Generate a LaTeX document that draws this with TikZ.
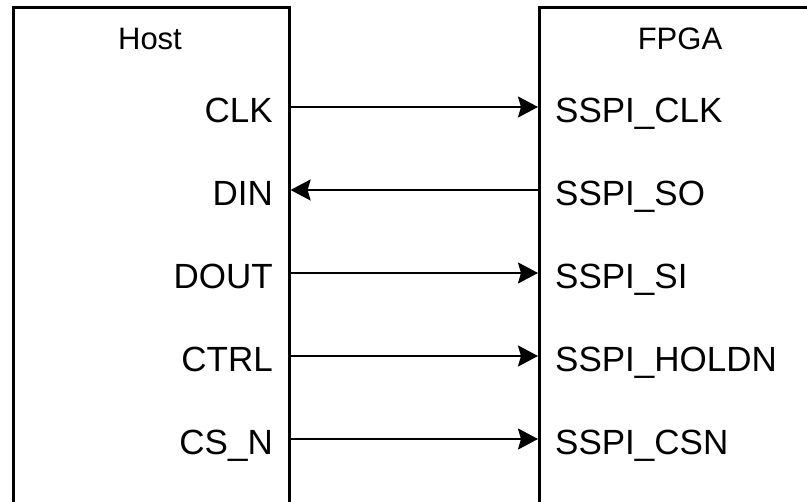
\documentclass[tikz,border=0pt]{standalone}
\usepackage{fontspec}
\setmainfont{Liberation Sans}
\usetikzlibrary{arrows.meta}
\begin{document}
\begin{tikzpicture}[x=1pt,y=-1pt,
  blockbox/.style={draw=black,line width=2.6pt,fill=none,anchor=north west,inner sep=0pt},
  title/.style={font=\fontsize{31}{36}\selectfont,anchor=base,inner sep=0pt},
  lsig/.style={font=\fontsize{35}{40}\selectfont,anchor=base east,inner sep=0pt},
  rsig/.style={font=\fontsize{35}{40}\selectfont,anchor=base west,inner sep=0pt},
  wire/.style={line width=2.2pt,-{Stealth[length=20pt,width=21pt,inset=3pt]}}]
\clip (0,0) rectangle (807,502);
\fill[white] (0,0) rectangle (807,502);
\node[blockbox,minimum width=276pt,minimum height=540pt] (host) at (12,6) {};
\node[blockbox,minimum width=284pt,minimum height=540pt] (fpga) at (538,6) {};
\node[title] (thost) at (150,50) {Host};
\node[title] (tfpga) at (680,50) {FPGA};
\foreach \i/\y/\l/\r in {1/107/CLK/SSPI\_CLK,2/190/DIN/SSPI\_SO,3/273/DOUT/SSPI\_SI,4/356/CTRL/SSPI\_HOLDN,5/439/CS\_N/SSPI\_CSN}{
  \coordinate (row\i) at (0,\y);
  \node[lsig] (l\i) at (273,\y+16) {\l};
  \node[rsig] (r\i) at (555,\y+16) {\r};
}
\draw[wire] (host.east |- row1) -- (fpga.west |- row1);
\draw[wire] (fpga.west |- row2) -- (host.east |- row2);
\draw[wire] (host.east |- row3) -- (fpga.west |- row3);
\draw[wire] (host.east |- row4) -- (fpga.west |- row4);
\draw[wire] (host.east |- row5) -- (fpga.west |- row5);
\end{tikzpicture}
\end{document}
